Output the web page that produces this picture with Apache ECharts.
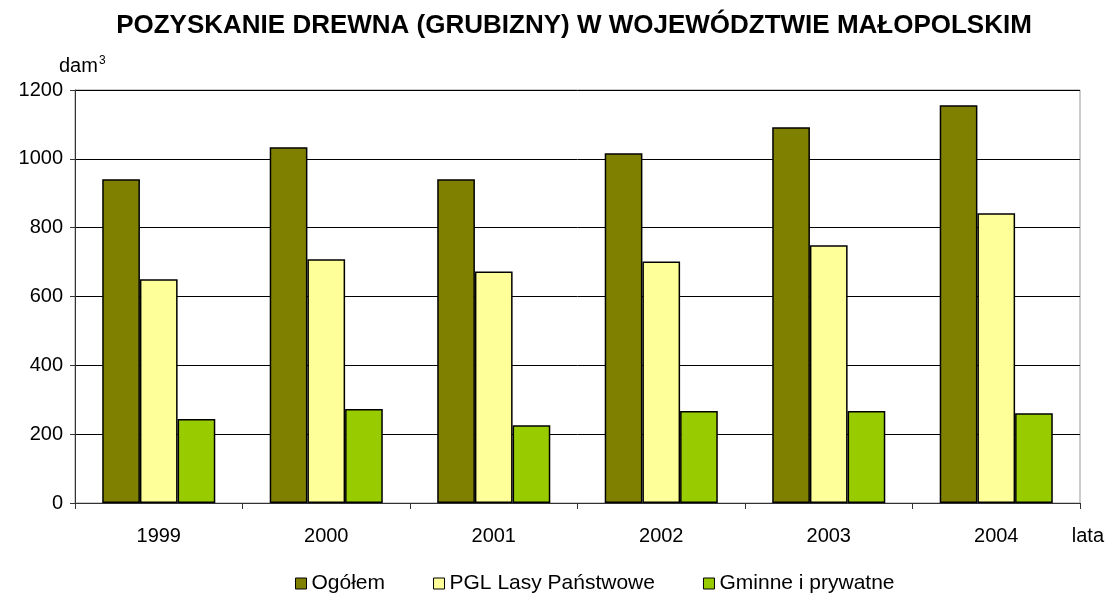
<!DOCTYPE html>
<html><head><meta charset="utf-8">
<script src="https://cdn.jsdelivr.net/npm/echarts@6/dist/echarts.min.js"></script>
<style>html,body{margin:0;padding:0;background:#fff}#c{width:1106px;height:593px}</style>
</head><body><div id="c"></div>
<script>
const categories = ['1999','2000','2001','2002','2003','2004'];
const ogolem = [941, 1034, 941, 1016, 1092, 1156];
const pgl = [650, 708, 673, 702, 749, 842];
const gminne = [244, 273, 226, 267, 267, 261];
const seriesNames = ['Ogółem', 'PGL Lasy Państwowe', 'Gminne i prywatne'];
const yTicks = [0, 200, 400, 600, 800, 1000, 1200];

const F = '"Liberation Sans", Arial, sans-serif';
const chart = echarts.init(document.getElementById('c'));
const colors = ['#808000', '#FFFF99', '#99CC00'];
chart.setOption({
  animation: false,
  title: {
    text: 'POZYSKANIE DREWNA (GRUBIZNY) W WOJEWÓDZTWIE MAŁOPOLSKIM',
    left: 569, textAlign: 'center', top: 8,
    textStyle: { fontFamily: F, fontSize: 26, fontWeight: 'bold', color: '#000' }
  },
  legend: {
    top: 568, left: 290, itemWidth: 11, itemHeight: 11, itemGap: 48,
    icon: 'rect',
    textStyle: { fontFamily: F, fontSize: 21, color: '#000' },
    itemStyle: { borderColor: '#000', borderWidth: 1 },
    data: seriesNames
  },
  graphic: [{
    type: 'text', left: 59, top: 55,
    style: {
      text: 'dam{s|3}', fontFamily: F, fontSize: 20, fill: '#000',
      rich: { s: { fontSize: 12, verticalAlign: 'top', padding: [0,0,10,1], fontFamily: F } }
    }
  }, {
    type: 'text', right: 2, top: 526,
    style: { text: 'lata', fontFamily: F, fontSize: 20, fill: '#000' }
  }],
  grid: { left: 75, right: 26, top: 90, bottom: 90, outerBoundsMode: 'none', containLabel: false,
    show: true, borderColor: '#999', borderWidth: 1 },
  xAxis: {
    type: 'category', data: categories,
    axisLine: { lineStyle: { color: '#333', width: 1 } },
    axisTick: { show: true, length: 6, lineStyle: { color: '#333' } },
    axisLabel: { fontFamily: F, fontSize: 20, color: '#000', margin: 23 }
  },
  yAxis: {
    type: 'value', min: yTicks[0], max: yTicks[yTicks.length - 1], interval: 200,
    axisLine: { show: true, lineStyle: { color: '#333', width: 1 } },
    axisTick: { show: true, length: 5, lineStyle: { color: '#333' } },
    axisLabel: { fontFamily: F, fontSize: 20, color: '#000', margin: 12, formatter: v => String(v) },
    splitLine: { lineStyle: { color: '#000', width: 1 } }
  },
  series: [
    { name: seriesNames[0], type: 'bar', data: ogolem, barGap: '0%', barCategoryGap: '32.5%',
      itemStyle: { color: colors[0], borderColor: '#000', borderWidth: 1.5 } },
    { name: seriesNames[1], type: 'bar', data: pgl,
      itemStyle: { color: colors[1], borderColor: '#000', borderWidth: 1.5 } },
    { name: seriesNames[2], type: 'bar', data: gminne,
      itemStyle: { color: colors[2], borderColor: '#000', borderWidth: 1.5 } }
  ]
});
</script></body></html>
